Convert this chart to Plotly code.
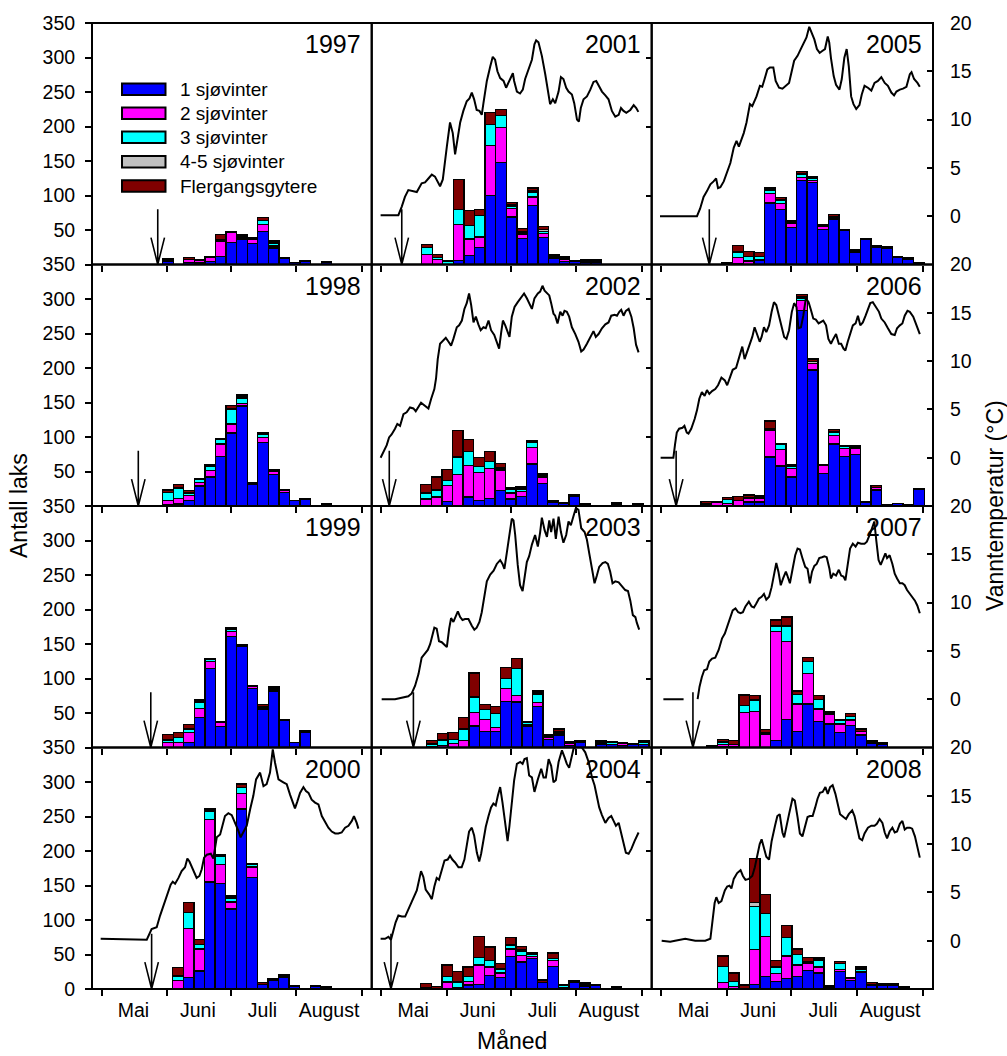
import plotly.graph_objects as go

# ---------------------------------------------------------------------------
# Categories, colours, calendar
# ---------------------------------------------------------------------------
CLASS_NAMES = ["1 sjøvinter", "2 sjøvinter", "3 sjøvinter", "4-5 sjøvinter", "Flergangsgytere"]
CLASS_COLORS = ["#0000FF", "#FF00FF", "#00FFFF", "#C0C0C0", "#800000"]

MONTH_EDGES = [121, 152, 182, 213, 244]          # day of year: 1 May, 1 Jun, 1 Jul, 1 Aug, 1 Sep
MONTH_MIDS = [136, 166.5, 197, 228.5]
MONTH_LABELS = ["Mai", "Juni", "Juli", "August"]

YEARS = list(range(1997, 2009))
BIN_DAYS = 5

# ---------------------------------------------------------------------------
# Catch per 5-day period: first period start (day of year) and counts per class
# ---------------------------------------------------------------------------
start_1997 = 149.8
sw1_1997 = [5, 0, 3, 2, 4, 12, 32, 37, 30, 48, 24, 9, 3, 4, 0, 3]
sw2_1997 = [3, 0, 4, 4, 6, 22, 14, 2, 7, 10, 3, 0, 0, 0, 0, 0]
sw3_1997 = [0, 0, 0, 0, 0, 2, 1, 2, 0, 6, 4, 0, 0, 0, 0, 0]
sw45_1997 = [0, 0, 0, 0, 1, 0, 1, 1, 2, 0, 2, 0, 0, 0, 0, 0]
fg_1997 = [0, 0, 3, 1, 0, 7, 0, 1, 0, 4, 2, 1, 0, 1, 0, 1]

start_1998 = 149.8
sw1_1998 = [2, 3, 8, 29, 42, 72, 106, 145, 31, 92, 46, 20, 8, 9, 0, 3]
sw2_1998 = [6, 8, 7, 5, 9, 18, 13, 4, 0, 7, 4, 2, 0, 0, 0, 1]
sw3_1998 = [12, 15, 4, 4, 6, 6, 21, 7, 0, 5, 0, 0, 0, 0, 0, 0]
sw45_1998 = [0, 1, 0, 2, 1, 1, 1, 2, 1, 2, 2, 1, 0, 0, 0, 0]
fg_1998 = [3, 4, 3, 0, 2, 1, 5, 3, 2, 1, 0, 1, 0, 1, 0, 0]

start_1999 = 149.8
sw1_1999 = [0, 0, 7, 43, 115, 30, 161, 147, 86, 56, 82, 39, 7, 22]
sw2_1999 = [7, 7, 15, 14, 10, 7, 7, 0, 2, 2, 3, 0, 0, 2]
sw3_1999 = [4, 8, 5, 9, 3, 0, 3, 0, 0, 0, 2, 0, 0, 0]
sw45_1999 = [0, 0, 1, 0, 1, 0, 2, 0, 2, 1, 1, 0, 0, 1]
fg_1999 = [8, 7, 5, 3, 0, 0, 0, 2, 0, 3, 0, 1, 0, 0]

start_2000 = 154.6
sw1_2000 = [0, 17, 26, 155, 153, 116, 261, 162, 7, 13, 17, 4, 0, 4, 3]
sw2_2000 = [12, 71, 32, 91, 27, 10, 22, 15, 0, 0, 2, 0, 0, 0, 0]
sw3_2000 = [7, 23, 6, 11, 12, 6, 9, 3, 0, 0, 0, 0, 0, 0, 0]
sw45_2000 = [0, 0, 0, 2, 1, 3, 0, 0, 0, 0, 0, 0, 0, 0, 0]
fg_2000 = [12, 14, 8, 2, 2, 0, 5, 1, 2, 2, 2, 1, 0, 1, 1]

start_2001 = 140.0
sw1_2001 = [0, 0, 0, 6, 13, 25, 100, 148, 69, 38, 86, 39, 9, 4, 4, 3, 3]
sw2_2001 = [15, 7, 0, 52, 24, 15, 72, 51, 12, 6, 12, 6, 2, 4, 0, 0, 1]
sw3_2001 = [10, 3, 4, 22, 20, 31, 31, 17, 4, 2, 7, 3, 1, 2, 0, 2, 1]
sw45_2001 = [0, 0, 0, 0, 0, 0, 0, 0, 2, 2, 2, 3, 1, 0, 0, 2, 0]
fg_2001 = [4, 5, 1, 43, 21, 9, 17, 9, 3, 4, 4, 4, 2, 2, 2, 0, 2]

start_2002 = 139.6
sw1_2002 = [0, 0, 7, 0, 13, 8, 11, 22, 10, 14, 61, 33, 6, 4, 14, 2, 0, 0, 0, 0, 2]
sw2_2002 = [10, 13, 23, 46, 46, 41, 43, 30, 9, 7, 24, 9, 0, 0, 1, 0, 0, 0, 3, 0, 0]
sw3_2002 = [9, 10, 7, 25, 20, 8, 11, 2, 5, 3, 7, 3, 0, 0, 0, 0, 0, 0, 0, 0, 0]
sw45_2002 = [0, 0, 0, 0, 0, 0, 0, 2, 0, 2, 0, 0, 0, 0, 0, 0, 0, 0, 0, 0, 0]
fg_2002 = [12, 19, 16, 38, 17, 13, 14, 6, 2, 2, 2, 2, 2, 1, 2, 1, 0, 0, 2, 0, 1]

start_2003 = 142.4
sw1_2003 = [0, 0, 0, 0, 31, 23, 23, 67, 66, 31, 59, 12, 18, 3, 8, 0, 4, 4, 3, 5, 4]
sw2_2003 = [1, 3, 6, 10, 20, 18, 6, 19, 9, 2, 6, 3, 2, 3, 0, 0, 1, 0, 3, 0, 0]
sw3_2003 = [4, 8, 6, 17, 22, 14, 20, 14, 39, 3, 12, 0, 1, 0, 0, 0, 3, 3, 0, 0, 4]
sw45_2003 = [0, 0, 0, 0, 0, 0, 0, 0, 0, 0, 2, 1, 2, 0, 0, 0, 0, 0, 0, 0, 0]
fg_2003 = [5, 9, 10, 16, 35, 7, 10, 16, 15, 2, 3, 2, 4, 2, 2, 0, 2, 2, 1, 1, 2]

start_2004 = 139.6
sw1_2004 = [2, 0, 0, 0, 6, 7, 20, 17, 47, 39, 44, 9, 33, 2, 9, 4, 5, 0, 2]
sw2_2004 = [0, 0, 10, 2, 5, 28, 12, 6, 11, 10, 3, 0, 8, 0, 0, 2, 0, 0, 0]
sw3_2004 = [0, 0, 8, 7, 7, 11, 9, 6, 5, 6, 3, 0, 3, 3, 2, 2, 0, 0, 0]
sw45_2004 = [0, 0, 0, 2, 0, 0, 0, 1, 2, 2, 0, 0, 0, 0, 0, 0, 0, 0, 0]
fg_2004 = [6, 4, 17, 14, 14, 30, 20, 7, 10, 5, 2, 4, 8, 2, 1, 1, 1, 0, 1]

start_2005 = 149.5
sw1_2005 = [2, 1, 0, 6, 89, 80, 54, 122, 119, 51, 66, 49, 18, 36, 25, 24, 10, 7, 2]
sw2_2005 = [0, 9, 5, 1, 14, 8, 5, 4, 3, 4, 3, 0, 0, 0, 0, 0, 0, 1, 0]
sw3_2005 = [0, 8, 7, 5, 4, 5, 2, 5, 3, 1, 1, 0, 0, 0, 0, 0, 0, 0, 0]
sw45_2005 = [0, 0, 0, 0, 1, 1, 1, 1, 0, 0, 0, 0, 0, 0, 0, 0, 0, 0, 0]
fg_2005 = [0, 10, 7, 5, 3, 3, 2, 3, 2, 2, 2, 2, 3, 2, 2, 2, 2, 2, 0]

start_2006 = 139.6
sw1_2006 = [0, 0, 1, 0, 6, 6, 71, 58, 42, 283, 197, 47, 90, 72, 75, 5, 23, 2, 4, 2, 24]
sw2_2006 = [3, 5, 3, 8, 5, 5, 38, 24, 12, 15, 10, 12, 12, 11, 9, 0, 4, 0, 0, 0, 0]
sw3_2006 = [1, 0, 5, 0, 1, 1, 2, 7, 4, 3, 0, 0, 5, 3, 3, 0, 0, 0, 0, 0, 0]
sw45_2006 = [0, 0, 0, 0, 0, 1, 1, 0, 1, 2, 2, 0, 1, 0, 0, 0, 0, 0, 0, 0, 0]
fg_2006 = [3, 2, 3, 6, 4, 2, 11, 1, 1, 4, 4, 1, 3, 2, 1, 1, 3, 0, 0, 0, 1]

start_2007 = 142.4
sw1_2007 = [1, 1, 1, 0, 0, 0, 10, 41, 23, 63, 38, 34, 22, 32, 18, 6, 4]
sw2_2007 = [0, 3, 3, 51, 52, 19, 158, 113, 40, 44, 18, 14, 12, 8, 5, 2, 2]
sw3_2007 = [0, 4, 0, 10, 17, 2, 8, 22, 14, 18, 14, 2, 6, 5, 0, 0, 0]
sw45_2007 = [0, 0, 0, 0, 0, 0, 0, 0, 0, 0, 0, 0, 0, 0, 0, 0, 0]
fg_2007 = [1, 4, 6, 15, 6, 5, 9, 13, 5, 5, 5, 2, 1, 4, 4, 2, 1]

start_2008 = 147.4
sw1_2008 = [0, 0, 0, 7, 18, 11, 15, 18, 27, 23, 2, 25, 12, 24, 6, 5, 6, 3]
sw2_2008 = [9, 4, 0, 50, 58, 11, 33, 17, 10, 9, 0, 3, 4, 1, 1, 2, 0, 0]
sw3_2008 = [24, 7, 0, 63, 33, 10, 27, 15, 2, 10, 1, 9, 0, 4, 0, 0, 0, 0]
sw45_2008 = [0, 0, 0, 5, 0, 0, 0, 0, 0, 0, 0, 0, 0, 0, 0, 0, 0, 0]
fg_2008 = [15, 12, 6, 64, 28, 9, 17, 8, 7, 3, 2, 3, 1, 3, 2, 1, 2, 1]

# Day of year marked with an arrow in each season (None = no arrow)
arrow_day = {1997: 147.5, 1998: 138.3, 1999: 144.2, 2000: 144.6,
             2001: 130.6, 2002: 124.7, 2003: 136.1, 2004: 125.5,
             2005: 143.5, 2006: 127.9, 2007: 135.8, 2008: None}

# ---------------------------------------------------------------------------
# Water temperature (day of year, degC)
# ---------------------------------------------------------------------------
temp_day_2000 = [120.5, 142.3, 144.6, 147.0, 148.6, 150.2, 151.0, 152.5, 153.6, 154.6, 155.7, 157.3, 158.8, 160.4,
                 161.5, 162.5, 163.6, 165.1, 165.9, 167.2, 168.3, 169.4, 170.7, 172.6, 173.8, 175.4, 177.0, 179.3,
                 180.9, 182.5, 184.1, 185.6, 186.7, 188.0, 189.6, 191.2, 192.7, 194.0, 195.9, 197.5, 199.0, 200.6,
                 201.9, 203.0, 204.6, 206.9, 208.5, 210.1, 211.7, 212.4, 213.5, 214.8, 216.4, 217.6, 218.8, 220.3,
                 221.9, 223.5, 225.1, 226.6, 228.2, 229.8, 231.4, 232.9, 234.5, 236.1, 237.7, 239.3, 240.3, 241.6,
                 242.4]
temp_2000 = [0.2, 0.1, 1.2, 1.4, 2.6, 3.6, 4.1, 5.0, 5.8, 6.1, 5.9, 6.5, 7.2, 7.6,
             8.5, 8.2, 7.7, 7.0, 6.5, 6.7, 7.4, 8.6, 8.9, 9.0, 8.5, 10.7, 11.0, 12.9,
             13.2, 13.0, 12.2, 11.4, 10.7, 11.3, 11.9, 13.6, 15.0, 16.7, 17.4, 16.0, 16.2, 17.4,
             19.8, 18.4, 16.7, 16.4, 16.2, 15.1, 14.1, 13.7, 14.4, 15.3, 15.9, 15.5, 15.3, 14.6,
             14.3, 14.1, 12.9, 12.3, 11.7, 11.3, 11.1, 11.1, 11.2, 11.7, 11.9, 12.4, 12.9, 12.2,
             11.6]

temp_day_2001 = [120.6, 129.0, 130.6, 132.1, 133.7, 135.3, 137.7, 140.0, 141.6, 143.2, 144.8, 146.3, 147.4, 148.7,
                 150.0, 151.1, 151.9, 153.4, 154.7, 155.8, 156.9, 158.2, 159.7, 161.3, 162.6, 163.7, 164.8, 166.0,
                 167.3, 168.4, 169.2, 170.8, 172.4, 173.6, 174.7, 175.8, 177.1, 178.7, 179.9, 181.0, 182.1, 183.1,
                 183.7, 185.0, 186.5, 187.8, 188.9, 190.5, 192.1, 193.3, 194.1, 195.2, 196.8, 198.4, 199.9, 200.7,
                 202.0, 203.1, 204.7, 205.8, 207.0, 208.3, 209.4, 211.0, 212.1, 213.4, 214.3, 215.2, 216.5, 218.1,
                 219.7, 221.2, 222.5, 223.6, 225.2, 226.8, 228.3, 229.9, 231.5, 233.1, 234.2, 235.4, 236.7, 238.6,
                 240.2, 241.4, 242.4]
temp_2001 = [0.1, 0.1, 1.0, 2.0, 2.7, 2.6, 2.5, 3.4, 3.5, 3.9, 4.3, 4.1, 3.6, 3.1,
             3.8, 5.5, 7.2, 9.7, 8.6, 6.4, 7.9, 9.7, 10.9, 11.9, 12.2, 12.8, 12.1, 11.0,
             10.9, 10.5, 11.7, 14.0, 15.5, 16.5, 16.2, 15.0, 14.3, 14.0, 13.3, 13.8, 14.3, 14.8,
             14.0, 12.9, 12.7, 13.1, 14.2, 15.2, 16.2, 17.8, 18.2, 18.0, 16.6, 14.7, 12.6, 11.6,
             12.1, 11.7, 12.9, 14.4, 14.2, 13.3, 12.9, 12.6, 11.7, 10.0, 9.8, 11.2, 12.1, 12.4,
             13.1, 13.9, 14.0, 13.6, 12.9, 12.5, 12.1, 10.9, 10.3, 10.5, 11.2, 10.9, 10.7, 11.0,
             11.5, 11.2, 10.8]

temp_day_2002 = [120.6, 121.9, 123.5, 124.6, 125.8, 127.4, 128.5, 129.8, 131.4, 132.9, 134.5, 136.1, 137.2, 139.7,
                 141.6, 143.2, 144.5, 146.0, 146.8, 147.6, 148.7, 150.3, 151.4, 152.7, 153.9, 155.0, 156.6, 157.7,
                 159.0, 160.2, 161.3, 162.4, 163.4, 164.5, 165.6, 166.8, 167.9, 169.2, 170.3, 171.6, 172.8, 174.3,
                 175.2, 176.6, 177.6, 178.4, 179.5, 180.7, 181.5, 182.6, 183.9, 185.4, 187.0, 188.4, 189.7, 191.3,
                 192.1, 193.3, 194.9, 196.0, 197.1, 198.1, 199.2, 200.3, 201.2, 202.3, 203.1, 204.2, 205.5, 206.6,
                 207.5, 208.6, 209.7, 211.0, 212.6, 214.1, 215.4, 216.5, 218.1, 219.7, 221.2, 222.3, 223.6, 225.2,
                 226.8, 228.3, 229.6, 231.2, 232.3, 233.4, 234.3, 235.4, 236.5, 237.8, 239.1, 240.2, 241.3, 242.5]
temp_2002 = [0.0, 0.6, 1.3, 2.1, 2.4, 3.0, 3.5, 3.3, 4.5, 4.7, 5.2, 5.1, 4.8, 5.7,
             5.4, 5.1, 6.1, 7.1, 8.2, 10.2, 11.8, 12.1, 12.4, 12.0, 11.6, 12.3, 13.5, 13.7,
             14.2, 15.4, 16.0, 17.0, 15.8, 14.0, 14.6, 13.8, 13.2, 13.5, 13.4, 14.2, 13.2, 12.7,
             12.1, 11.3, 13.0, 14.2, 13.7, 13.0, 12.5, 14.6, 15.6, 16.1, 16.6, 17.0, 16.5, 15.8,
             15.4, 16.5, 17.0, 17.2, 17.8, 17.3, 17.0, 16.8, 16.0, 14.9, 14.7, 13.9, 15.1, 14.7,
             15.2, 15.1, 14.6, 13.5, 12.8, 12.0, 11.0, 11.2, 11.8, 12.5, 13.1, 12.5, 12.8, 13.4,
             13.8, 14.0, 14.7, 14.8, 14.7, 15.1, 15.3, 14.7, 15.2, 15.4, 14.6, 13.4, 11.7, 10.9]

temp_day_2003 = [121.1, 127.4, 133.7, 135.3, 136.9, 138.5, 140.0, 141.6, 142.9, 144.0, 145.1, 146.0, 147.1, 148.2,
                 149.5, 150.4, 151.9, 153.0, 153.9, 155.0, 156.1, 157.1, 158.2, 159.3, 160.5, 162.1, 163.7, 164.9,
                 166.0, 167.3, 168.4, 169.7, 170.8, 172.4, 174.0, 175.5, 177.1, 178.2, 179.1, 180.2, 181.4, 182.6,
                 183.4, 184.2, 185.4, 186.5, 187.7, 188.6, 189.7, 190.8, 192.1, 193.6, 194.9, 196.0, 196.8, 198.1,
                 199.2, 200.3, 201.2, 202.3, 203.4, 204.7, 205.8, 207.0, 208.3, 209.4, 210.5, 211.8, 212.9, 214.1,
                 215.4, 217.0, 218.1, 219.2, 220.4, 221.7, 222.8, 223.9, 225.5, 226.8, 228.0, 229.1, 230.2, 231.5,
                 233.1, 234.6, 236.2, 237.5, 238.6, 239.8, 241.0, 241.7, 242.8]
temp_2003 = [0.0, 0.0, 0.3, 0.6, 1.4, 2.6, 4.3, 4.8, 5.1, 5.7, 6.6, 7.4, 7.3, 6.0,
             5.9, 5.7, 5.4, 7.3, 8.4, 8.0, 8.7, 9.1, 8.5, 8.2, 8.3, 8.3, 7.6, 7.2,
             7.4, 8.0, 9.0, 10.6, 12.2, 12.9, 13.3, 14.0, 14.4, 14.0, 13.5, 15.1, 17.2, 18.7,
             18.5, 17.0, 13.9, 11.8, 11.2, 12.7, 14.2, 14.8, 16.0, 17.0, 15.8, 17.3, 18.8, 17.5,
             16.8, 18.5, 17.3, 18.7, 16.6, 18.9, 17.3, 16.2, 17.0, 18.4, 18.0, 19.0, 19.8, 19.6,
             17.7, 17.3, 16.5, 15.1, 13.5, 12.0, 12.8, 13.7, 14.1, 14.2, 14.0, 13.2, 12.0, 12.2,
             12.1, 11.7, 11.3, 11.2, 10.2, 8.7, 8.5, 7.9, 7.2]

temp_day_2004 = [120.6, 122.7, 124.3, 125.5, 126.6, 127.7, 129.0, 130.6, 132.2, 133.4, 135.0, 136.6, 137.7, 138.5,
                 139.7, 140.8, 141.9, 143.5, 144.8, 146.0, 147.1, 148.2, 149.5, 150.8, 152.3, 153.4, 154.5, 155.8,
                 157.4, 158.9, 160.2, 161.3, 162.4, 163.7, 164.8, 166.1, 167.2, 168.1, 169.2, 170.3, 171.6, 172.8,
                 173.9, 175.0, 176.0, 177.1, 178.2, 179.5, 180.6, 181.5, 182.6, 183.7, 185.0, 186.6, 187.7, 188.6,
                 189.7, 190.8, 192.1, 193.3, 194.9, 196.5, 197.6, 198.7, 200.0, 201.2, 202.3, 203.4, 204.7, 206.3,
                 207.5, 208.6, 209.7, 210.7, 211.8, 212.9, 214.1, 215.7, 217.3, 218.9, 220.5, 221.7, 222.8, 223.9,
                 225.2, 226.8, 228.3, 229.6, 230.7, 231.8, 233.1, 234.3, 235.4, 236.5, 237.8, 239.1, 240.6, 242.5]
temp_2004 = [0.2, 0.2, 0.4, 0.1, 1.0, 1.9, 2.6, 2.5, 2.5, 3.1, 3.9, 4.8, 5.2, 6.0,
             7.2, 6.6, 5.3, 4.8, 4.3, 5.6, 6.5, 6.3, 7.3, 8.3, 8.4, 8.8, 8.4, 8.1,
             7.6, 7.6, 8.4, 10.0, 11.3, 11.7, 10.9, 9.1, 8.2, 9.0, 10.3, 11.8, 12.9, 13.8,
             14.2, 14.0, 15.0, 15.9, 14.3, 12.1, 10.3, 11.9, 14.3, 16.6, 18.3, 18.5, 18.3, 18.8,
             18.9, 17.1, 16.9, 15.4, 16.7, 17.8, 16.9, 16.9, 18.8, 18.1, 16.4, 16.6, 18.5, 19.7,
             19.0, 18.3, 17.9, 18.8, 19.9, 20.0, 20.2, 20.0, 19.5, 18.5, 16.9, 16.1, 15.0, 13.8,
             13.0, 12.2, 12.7, 12.9, 12.4, 11.9, 12.2, 11.2, 10.0, 9.1, 9.0, 9.5, 10.3, 11.2]

temp_day_2005 = [120.3, 137.7, 139.2, 140.8, 142.4, 144.0, 145.5, 146.7, 147.6, 148.7, 150.3, 151.9, 153.4, 155.0,
                 156.3, 157.4, 159.7, 161.0, 162.6, 163.7, 165.7, 167.3, 168.4, 169.5, 170.8, 172.0, 173.6, 174.7,
                 176.3, 177.9, 179.5, 181.0, 183.4, 185.0, 186.5, 188.1, 189.2, 190.5, 191.6, 192.9, 194.1, 195.4,
                 196.6, 197.9, 199.2, 199.9, 200.7, 202.0, 203.1, 204.7, 205.8, 207.0, 208.1, 209.1, 210.2, 211.3,
                 212.6, 214.1, 215.2, 216.5, 218.1, 219.7, 221.2, 222.8, 224.4, 226.0, 227.5, 229.1, 230.4, 231.5,
                 233.1, 234.6, 236.2, 237.8, 238.6, 239.8, 241.4, 242.5]
temp_2005 = [0.0, 0.0, 0.8, 2.0, 2.6, 3.3, 3.6, 3.9, 2.9, 3.0, 3.6, 4.6, 5.5, 7.1,
             7.8, 7.2, 8.6, 9.7, 11.6, 11.4, 12.4, 13.5, 13.4, 14.2, 15.2, 15.4, 15.4, 14.0,
             13.3, 13.2, 13.5, 13.8, 16.1, 16.6, 17.3, 18.0, 18.5, 19.6, 19.0, 18.3, 17.3, 16.9,
             17.1, 17.3, 18.6, 18.0, 16.4, 14.5, 13.6, 13.1, 14.2, 16.4, 17.3, 15.5, 12.4, 11.6,
             11.1, 11.5, 12.6, 13.5, 13.3, 13.0, 13.8, 14.0, 14.4, 13.8, 13.5, 12.8, 12.5, 12.9,
             13.1, 13.2, 13.4, 14.7, 14.9, 14.2, 13.8, 13.4]

temp_day_2006 = [120.6, 126.6, 127.4, 128.2, 129.3, 130.9, 131.8, 132.9, 133.7, 135.0, 136.6, 137.7, 138.8, 140.0,
                 141.3, 142.4, 143.5, 144.8, 146.3, 147.6, 149.2, 150.8, 151.9, 153.4, 154.5, 156.1, 157.4, 159.0,
                 160.1, 161.3, 162.4, 163.7, 164.8, 166.1, 167.2, 168.1, 169.2, 170.3, 171.6, 172.8, 173.9, 175.0,
                 176.3, 177.6, 178.7, 179.8, 181.0, 182.3, 183.4, 184.5, 185.4, 186.6, 187.7, 188.9, 190.2, 191.3,
                 192.4, 193.6, 194.9, 197.1, 198.4, 199.5, 200.7, 201.8, 203.1, 204.4, 205.5, 206.6, 207.5, 208.6,
                 209.7, 211.0, 212.3, 213.4, 214.5, 215.7, 217.0, 218.1, 219.2, 220.4, 222.0, 223.3, 224.4, 226.0,
                 227.5, 229.1, 230.7, 231.8, 233.1, 234.3, 235.4, 236.7, 237.8, 239.4, 240.6, 241.7, 242.5]
temp_2006 = [0.0, 0.0, 1.4, 2.6, 3.0, 3.1, 3.3, 2.6, 2.5, 3.0, 4.0, 4.9, 6.1, 6.8,
             6.4, 7.0, 6.6, 6.9, 7.1, 7.5, 8.3, 8.0, 7.5, 8.4, 9.1, 9.3, 10.2, 11.5,
             10.2, 11.0, 11.7, 12.5, 13.5, 12.7, 12.0, 12.5, 13.5, 13.0, 13.7, 15.1, 16.1, 15.8,
             14.7, 13.4, 12.5, 12.3, 13.2, 15.1, 16.0, 15.6, 13.4, 13.5, 14.7, 16.5, 16.1, 15.3,
             14.4, 14.3, 13.9, 14.2, 13.7, 12.3, 11.8, 12.3, 12.8, 11.8, 11.8, 11.3, 11.1, 12.0,
             12.8, 13.7, 13.9, 14.7, 13.7, 14.0, 14.7, 15.4, 16.0, 16.1, 15.6, 15.1, 14.4, 14.0,
             13.4, 12.8, 12.7, 13.4, 13.7, 13.9, 14.7, 15.2, 15.1, 14.6, 13.9, 13.2, 12.8]

temp_day_2007 = [121.9, 131.4, None, 138.0, 138.9, 140.0, 141.1, 142.4, 143.5, 144.8, 146.3, 147.9, 149.5, 150.8,
                 151.9, 153.4, 154.5, 155.8, 157.1, 158.2, 159.3, 160.5, 162.1, 163.4, 164.5, 165.6, 166.8, 168.1,
                 169.2, 170.3, 171.6, 172.8, 173.9, 175.0, 176.0, 177.1, 178.2, 179.5, 180.2, 181.4, 182.6, 183.9,
                 185.0, 186.1, 187.3, 188.6, 189.7, 190.8, 191.8, 192.9, 194.0, 195.2, 196.5, 197.6, 198.7, 200.0,
                 200.7, 201.8, 203.1, 204.4, 205.5, 206.6, 207.5, 208.6, 209.7, 211.0, 212.3, 213.4, 214.9, 216.5,
                 217.6, 218.9, 220.1, 221.1, 222.0, 223.1, 224.1, 225.2, 226.3, 227.1, 228.3, 229.6, 230.7, 231.8,
                 233.1, 234.3, 235.4, 236.5, 237.8, 238.9, 240.2, 241.3, 242.5]
temp_2007 = [0.0, 0.0, None, 0.0, 1.3, 2.3, 3.0, 3.1, 3.9, 4.2, 4.3, 5.1, 6.3, 6.8,
             7.5, 8.3, 9.2, 9.4, 9.0, 8.9, 9.0, 9.6, 10.1, 9.6, 9.5, 9.9, 10.4, 10.6,
             10.9, 10.3, 10.6, 11.6, 13.0, 14.1, 13.2, 11.8, 12.5, 13.2, 12.8, 12.0, 13.4, 14.9,
             15.6, 15.5, 14.6, 13.7, 13.5, 12.0, 13.2, 13.8, 14.0, 14.6, 14.7, 14.8, 14.7, 13.5,
             12.5, 13.0, 12.8, 13.4, 12.8, 12.7, 12.3, 13.9, 15.6, 16.1, 15.8, 16.2, 16.1, 16.1,
             16.3, 17.0, 17.7, 18.4, 16.5, 14.4, 13.9, 14.6, 15.1, 14.6, 14.9, 14.0, 13.0, 12.5,
             12.0, 12.0, 11.8, 11.3, 10.9, 10.6, 10.2, 9.7, 8.9]

temp_day_2008 = [121.1, 125.1, 127.4, 132.2, 134.5, 136.9, 139.2, 141.6, 144.0, 145.1, 146.0, 146.8, 147.9, 149.2,
                 150.8, 151.9, 153.0, 153.9, 155.0, 156.6, 158.2, 159.3, 160.5, 162.1, 163.7, 164.9, 166.1, 167.2,
                 168.1, 169.2, 170.3, 171.6, 172.8, 174.4, 175.5, 176.6, 177.9, 178.7, 179.8, 181.0, 182.6, 183.7,
                 185.0, 186.1, 187.3, 188.6, 189.7, 190.8, 192.1, 193.3, 194.4, 195.5, 196.8, 198.1, 199.2, 200.3,
                 201.5, 202.8, 203.9, 205.0, 206.6, 207.8, 209.1, 210.7, 211.8, 212.9, 214.1, 215.4, 216.5, 218.1,
                 219.7, 221.2, 222.3, 223.6, 224.9, 226.0, 227.1, 228.3, 229.6, 230.7, 231.8, 233.1, 234.3, 235.4,
                 236.5, 237.8, 238.9, 240.2, 241.3, 242.5]
temp_2008 = [0.0, -0.1, 0.0, 0.2, 0.1, 0.0, 0.0, 0.0, 0.2, 2.0, 3.9, 4.5, 3.9, 4.1,
             5.2, 5.6, 5.7, 5.4, 6.4, 7.0, 7.3, 6.7, 6.3, 6.4, 6.7, 7.6, 9.0, 10.0,
             10.5, 9.7, 8.7, 8.4, 10.3, 11.9, 12.9, 13.1, 11.2, 10.7, 11.7, 13.1, 14.7, 14.5,
             12.8, 11.1, 10.8, 11.9, 12.8, 12.9, 12.9, 13.8, 14.7, 15.3, 15.4, 15.9, 15.2, 15.9,
             16.1, 15.2, 14.2, 13.1, 12.8, 12.6, 13.1, 13.5, 12.9, 11.9, 10.6, 10.4, 11.1, 11.7,
             11.9, 11.9, 12.1, 12.6, 12.2, 11.2, 10.6, 11.3, 11.7, 11.2, 11.3, 12.1, 12.4, 11.5,
             11.7, 11.7, 11.6, 10.8, 9.8, 8.6]

# ---------------------------------------------------------------------------
# Assemble per-year tables from the lists above
# ---------------------------------------------------------------------------
g = globals()
catch = {y: (g[f"start_{y}"], [g[f"sw1_{y}"], g[f"sw2_{y}"], g[f"sw3_{y}"], g[f"sw45_{y}"], g[f"fg_{y}"]])
         for y in YEARS}
temperature = {y: (g[f"temp_day_{y}"], g[f"temp_{y}"]) for y in range(2000, 2009)}

# ---------------------------------------------------------------------------
# Geometry
# ---------------------------------------------------------------------------
W, H = 1007, 1056
ML, MR, MT, MB = 92, 74, 23, 67
PW, PH = W - ML - MR, H - MT - MB
COL_EDGES = [0.0, 0.3326, 0.6655, 1.0]
ROW_EDGES = [1.0, 0.75, 0.5, 0.25, 0.0]
X_RANGE = [116.4, 248.7]
FISH_RANGE = [0, 350]
TEMP_RANGE = [-5, 20]
FONT = "Arial, Liberation Sans, Helvetica, sans-serif"
TICK_FONT = dict(family=FONT, size=19.5, color="black")
TITLE_FONT = dict(family=FONT, size=23, color="black")
ARROW_TOP = 80


def px(x):
    return (x - ML) / PW


def py(y):
    return (H - MB - y) / PH


def suffix(n):
    return "" if n == 1 else str(n)


fig = go.Figure()
layout = dict(
    width=W, height=H,
    margin=dict(l=ML, r=MR, t=MT, b=MB, pad=0),
    paper_bgcolor="white", plot_bgcolor="white",
    barmode="stack", showlegend=False,
    font=dict(family=FONT, size=19.5, color="black"),
)
shapes = []
annotations = []

for idx, year in enumerate(YEARS):
    n = idx + 1
    col, row = idx // 4, idx % 4
    xa, ya = "x" + suffix(n), "y" + suffix(n)
    bottom_row = row == 3

    # --- stacked catch bars ---
    start, classes = catch[year]
    nb = len(classes[0])
    centers = [start + i * BIN_DAYS + BIN_DAYS / 2 for i in range(nb)]
    for name, color, vals in zip(CLASS_NAMES, CLASS_COLORS, classes):
        fig.add_trace(go.Bar(
            x=centers, y=[v if v else None for v in vals], width=BIN_DAYS,
            name=name, marker=dict(color=color, line=dict(color="black", width=1.3)),
            xaxis=xa, yaxis=ya, showlegend=False,
        ))

    # --- axes (frame drawn as a shape so shared panel edges stay single-width) ---
    layout["xaxis" + suffix(n)] = dict(
        domain=[COL_EDGES[col], COL_EDGES[col + 1]], anchor=ya, range=X_RANGE,
        showline=False, showgrid=False, zeroline=False,
        tickmode="array", tickvals=MONTH_MIDS, ticktext=MONTH_LABELS, ticks="",
        showticklabels=bottom_row, tickfont=TICK_FONT, ticklabelstandoff=7,
        minor=dict(tickmode="array", tickvals=MONTH_EDGES, ticks="outside",
                   ticklen=6, tickwidth=1.5, tickcolor="black"),
    )
    if col == 0:
        fish_ticks = list(range(0 if bottom_row else 50, 351, 50))
        yticks = dict(tickmode="array", tickvals=fish_ticks, ticks="outside", ticklen=6,
                      tickwidth=1.5, tickcolor="black", showticklabels=True,
                      tickfont=TICK_FONT, ticklabelstandoff=6)
    elif col == 2:
        yticks = dict(tickmode="array", tickvals=[100, 200, 300], ticks="outside", ticklen=5,
                      tickwidth=1.5, tickcolor="black", showticklabels=False)
    else:
        yticks = dict(ticks="", showticklabels=False)
    layout["yaxis" + suffix(n)] = dict(
        domain=[ROW_EDGES[row + 1], ROW_EDGES[row]], anchor=xa, range=FISH_RANGE,
        showline=False, showgrid=False, zeroline=False, **yticks,
    )
    shapes.append(dict(type="rect", xref=xa + " domain", yref=ya + " domain",
                       x0=0, x1=1, y0=0, y1=1, line=dict(color="black", width=2),
                       fillcolor="rgba(0,0,0,0)"))

    # --- water temperature on a secondary axis ---
    if year in temperature:
        tn = 12 + n
        days, temps = temperature[year]
        layout[f"yaxis{tn}"] = dict(
            overlaying=ya, anchor=xa, side="right", range=TEMP_RANGE,
            showline=False, showgrid=False, zeroline=False,
            tickmode="array", tickvals=[0, 5, 10, 15, 20],
            ticks="inside" if col == 2 else "", ticklen=6, tickwidth=1.5, tickcolor="black",
            showticklabels=(col == 2), tickfont=TICK_FONT, ticklabelstandoff=16,
        )
        fig.add_trace(go.Scatter(
            x=days, y=temps, mode="lines", line=dict(color="black", width=2),
            connectgaps=False, xaxis=xa, yaxis=f"y{tn}", showlegend=False,
        ))

    # --- arrow ---
    d = arrow_day[year]
    if d is not None:
        shapes.append(dict(
            type="path", xref=xa, yref=ya,
            path=f"M {d},{ARROW_TOP} L {d},0 M {d - 3.2},{39} L {d},0 L {d + 3.2},{39}",
            line=dict(color="black", width=1.6),
        ))

    # --- year label ---
    annotations.append(dict(
        text=str(year), xref=f"{xa} domain", yref=f"{ya} domain", x=1, y=1,
        xanchor="right", yanchor="middle", xshift=-9, yshift=-21, showarrow=False,
        font=dict(family=FONT, size=25, color="black"),
    ))

# --- legend drawn inside the first panel ---
leg_y = [89.3, 113.3, 137.3, 161.7, 186.0]
for name, color, yc in zip(CLASS_NAMES, CLASS_COLORS, leg_y):
    shapes.append(dict(type="rect", xref="paper", yref="paper",
                       x0=px(122), x1=px(165.5), y0=py(yc - 5.8), y1=py(yc + 5.8),
                       fillcolor=color, line=dict(color="black", width=2)))
    annotations.append(dict(text=name, xref="paper", yref="paper", x=px(178), y=py(yc),
                            xanchor="left", yanchor="middle", showarrow=False,
                            font=dict(family=FONT, size=19, color="black")))

# --- axis titles ---
annotations += [
    dict(text="Antall laks", xref="paper", yref="paper", x=px(19), y=py(506), textangle=-90,
         xanchor="center", yanchor="middle", showarrow=False, font=TITLE_FONT),
    dict(text="Vanntemperatur (°C)", xref="paper", yref="paper", x=px(995), y=py(506), textangle=-90,
         xanchor="center", yanchor="middle", showarrow=False, font=TITLE_FONT),
    dict(text="Måned", xref="paper", yref="paper", x=px(512), y=py(1041),
         xanchor="center", yanchor="middle", showarrow=False, font=TITLE_FONT),
]

layout["shapes"] = shapes
layout["annotations"] = annotations
fig.update_layout(**layout)
fig.write_html("out.html")
